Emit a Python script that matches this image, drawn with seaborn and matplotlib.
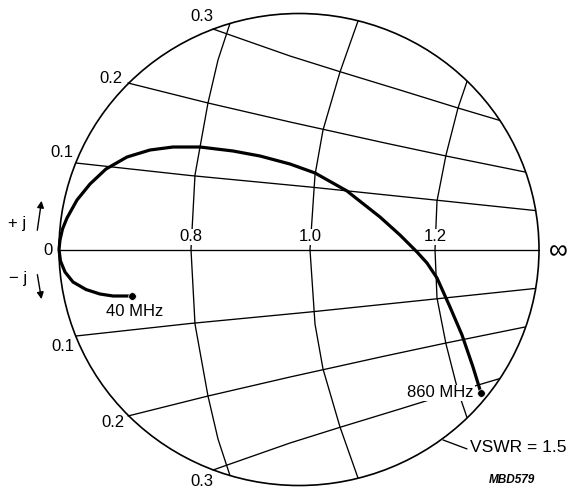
import numpy as np
import pandas as pd
import matplotlib.pyplot as plt
import seaborn as sns

# Plano del diagrama: circulo VSWR = 1.5 con radio 1, centro (0, 0)
# Solo la mitad superior de la rejilla; la inferior es su reflejo
r_labels = ['0.8', '1.0', '1.2']
r08_u = [-0.2875, -0.3375, -0.3792, -0.4333, -0.45]
r08_v = [0.958, 0.803, 0.621, 0.316, 0.0]
r10_u = [0.2458, 0.1708, 0.1, 0.0667, 0.0458]
r10_v = [0.968, 0.752, 0.506, 0.316, 0.0]
r12_u = [0.7, 0.6625, 0.6125, 0.575, 0.5667]
r12_v = [0.712, 0.5996, 0.4004, 0.2055, 0.0]

x_labels = ['0.1', '0.2', '0.3']
x01_u = [-0.9292, -0.4542, 0.0458, 0.5458, 0.985]
x01_v = [0.3665, 0.3136, 0.2648, 0.2119, 0.165]
x02_u = [-0.7125, -0.3792, -0.0375, 0.3583, 0.6125, 0.9417]
x02_v = [0.7055, 0.6208, 0.5403, 0.4513, 0.3962, 0.3284]
x03_u = [-0.3583, -0.0375, 0.175, 0.4208, 0.6625, 0.8375]
x03_v = [0.9343, 0.8199, 0.7521, 0.6758, 0.5996, 0.5466]

# Curva de impedancia de 40 MHz a 860 MHz
locus_u = [-0.6958, -0.775, -0.8292, -0.8875, -0.9417, -0.975, -0.9938, -1.0,
           -0.9958, -0.9854, -0.9667, -0.925, -0.8708, -0.8042, -0.7167, -0.6208,
           -0.525, -0.4125, -0.275, -0.1625, -0.0375, 0.0667, 0.2, 0.3375,
           0.4208, 0.4917, 0.5333, 0.575, 0.6292, 0.6792, 0.725, 0.7583]
locus_v = [-0.197, -0.197, -0.1886, -0.1695, -0.1377, -0.0953, -0.0487, 0.0,
           0.0403, 0.0869, 0.1335, 0.2097, 0.2775, 0.3411, 0.3919, 0.4216,
           0.4343, 0.4343, 0.4174, 0.3962, 0.3623, 0.3242, 0.2479, 0.1377,
           0.0614, -0.0106, -0.0572, -0.1208, -0.2436, -0.3623, -0.4979, -0.6081]
freq_labels = ['40 MHz', '860 MHz']

# Construir la rejilla completa
rows = []
for name, u, v in [('r08', r08_u, r08_v), ('r10', r10_u, r10_v), ('r12', r12_u, r12_v)]:
    uu = list(u) + list(u[::-1])[1:]
    vv = list(v) + [-x for x in v[::-1]][1:]
    rows += [(name, a, b) for a, b in zip(uu, vv)]
for name, u, v in [('x01', x01_u, x01_v), ('x02', x02_u, x02_v), ('x03', x03_u, x03_v)]:
    rows += [(name + '+', a, b) for a, b in zip(u, v)]
    rows += [(name + '-', a, -b) for a, b in zip(u, v)]
rows += [('eje', -1.0, 0.0), ('eje', 1.0, 0.0)]
grid = pd.DataFrame(rows, columns=['curva', 'u', 'v'])
locus = pd.DataFrame({'u': locus_u, 'v': locus_v})
ends = locus.iloc[[0, -1]]

sns.set_style('white')
plt.rcParams['font.family'] = ['Liberation Sans', 'DejaVu Sans']
plt.rcParams['text.color'] = 'black'

fig = plt.figure(figsize=(5.69, 4.92), dpi=100)
ax = fig.add_axes([0, 0, 1, 1])

ax.add_patch(plt.Circle((0, 0), 1.0, fill=False, color='black', lw=1.2))
sns.lineplot(data=grid, x='u', y='v', units='curva', estimator=None, sort=False,
             color='black', lw=0.95, ax=ax)
sns.lineplot(data=locus, x='u', y='v', estimator=None, sort=False,
             color='black', lw=2.3, ax=ax)
sns.scatterplot(data=ends, x='u', y='v', color='black', s=30, ax=ax, zorder=5)

# etiquetas de resistencia sobre el eje
for lab, u in zip(r_labels, [r08_u[-1], r10_u[-1], r12_u[-1]]):
    ax.text(u, 0.053, lab, fontsize=12, ha='center', va='center',
            bbox=dict(facecolor='white', edgecolor='none', pad=0.5))

# etiquetas de reactancia
xl_up = [(-0.9875, 0.413), (-0.783, 0.7225), (-0.404, 0.989)]
xl_dn = [(-0.983, -0.413), (-0.775, -0.735), (-0.404, -0.981)]
for lab, p, q in zip(x_labels, xl_up, xl_dn):
    ax.text(p[0], p[1], lab, fontsize=12, ha='center', va='center')
    ax.text(q[0], q[1], lab, fontsize=12, ha='center', va='center')

ax.text(-1.046, -0.006, '0', fontsize=12, ha='center', va='center')
ax.text(1.079, -0.006, '∞', fontsize=19, ha='center', va='center')
ax.text(-1.175, 0.112, '+ j', fontsize=12, ha='center', va='center')
ax.text(-1.171, -0.121, '− j', fontsize=12, ha='center', va='center')
ax.annotate('', xy=(-1.071, 0.218), xytext=(-1.092, 0.07),
            arrowprops=dict(arrowstyle='-|>', color='black', lw=1, mutation_scale=10))
ax.annotate('', xy=(-1.071, -0.222), xytext=(-1.092, -0.095),
            arrowprops=dict(arrowstyle='-|>', color='black', lw=1, mutation_scale=10))

ax.text(-0.683, -0.261, freq_labels[0], fontsize=12, ha='center', va='center')
ax.text(0.729, -0.608, freq_labels[1], fontsize=12, ha='right', va='center',
        bbox=dict(facecolor='white', edgecolor='none', pad=0.5))

ax.plot([0.6, 0.7], [-0.807, -0.845], color='black', lw=0.95)
ax.text(0.7125, -0.837, 'VSWR = 1.5', fontsize=12.5, ha='left', va='center')
ax.text(0.8875, -0.977, 'MBD579', fontsize=8.5, ha='center', va='center',
        style='italic', weight='bold')

ax.set_xlim(-1.2458, 1.125)
ax.set_ylim(-1.0275, 1.0572)
ax.set_axis_off()
fig.savefig('out.png', dpi=100)
